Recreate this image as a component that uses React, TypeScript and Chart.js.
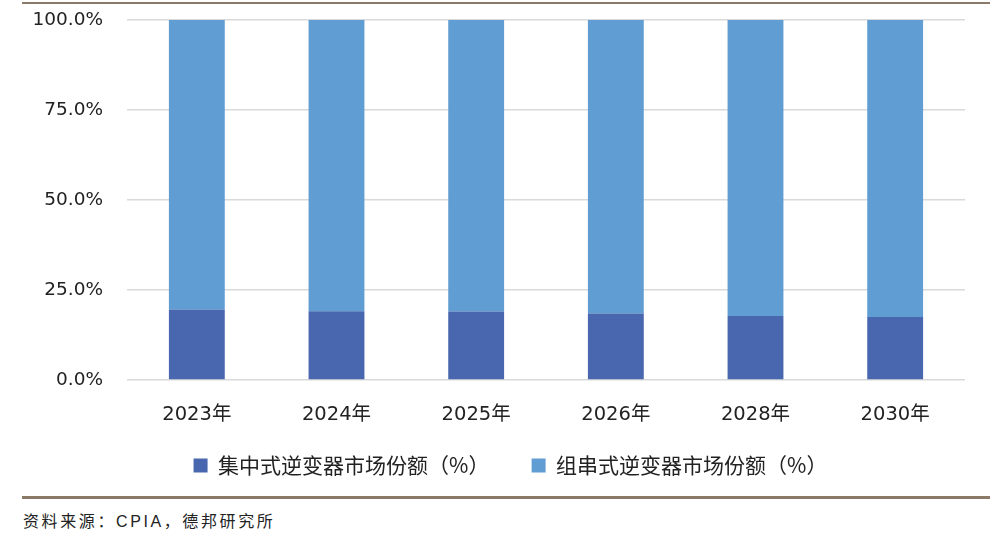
import React, { useEffect, useRef } from "react";
import { Chart, registerables } from "chart.js";

Chart.register(...registerables);

const categories = ["2023年", "2024年", "2025年", "2026年", "2028年", "2030年"];
const centralized = [19.6, 19.1, 19.0, 18.5, 17.8, 17.5];
const string = [80.4, 80.9, 81.0, 81.5, 82.2, 82.5];
const seriesNames = ["集中式逆变器市场份额（%）", "组串式逆变器市场份额（%）"];
const yTicks = [0, 25, 50, 75, 100];
const source = "资料来源：CPIA，德邦研究所";

const FONT = "'DejaVu Sans', 'Noto Sans CJK SC', sans-serif";
const CJK = "'Noto Sans CJK SC', sans-serif";

const legendShift = {
  id: "legendShift",
  afterLayout(chart: any) {
    if (chart.legend) {
      chart.legend.left += 28;
      chart.legend.right += 28;
    }
  },
};

export default function App() {
  const ref = useRef<HTMLCanvasElement | null>(null);
  useEffect(() => {
    if (!ref.current) return;
    const chart = new Chart(ref.current, {
      type: "bar",
      data: {
        labels: categories,
        datasets: [
          { label: seriesNames[0], data: centralized, backgroundColor: "#4867ae", barPercentage: 0.8, categoryPercentage: 0.5 },
          { label: seriesNames[1], data: string, backgroundColor: "#5f9dd3", barPercentage: 0.8, categoryPercentage: 0.5 },
        ],
      },
      plugins: [legendShift],
      options: {
        animation: false,
        responsive: true,
        maintainAspectRatio: false,
        layout: { padding: { top: 20, right: 42, left: 0, bottom: 0 } },
        plugins: {
          tooltip: { enabled: false },
          legend: {
            position: "bottom",
            labels: {
              font: { family: CJK, size: 21 },
              color: "#222",
              boxWidth: 14,
              boxHeight: 14,
              padding: 27,
              generateLabels: (c: any) => {
                const items = Chart.defaults.plugins.legend.labels.generateLabels(c);
                return items.map((it: any, i: number) => (i < items.length - 1 ? { ...it, text: it.text + "\u3000 " } : it));
              },
            },
          },
        },
        scales: {
          x: {
            stacked: true,
            grid: { display: false, drawTicks: false },
            border: { display: false },
            ticks: { font: { family: FONT, size: 19.5 }, color: "#222", padding: 23 },
            afterFit: (s: any) => { s.height = 48; },
          },
          y: {
            stacked: true,
            min: 0,
            max: 100,
            afterBuildTicks: (s: any) => { s.ticks = yTicks.map((v) => ({ value: v })); },
            grid: { color: "#d9d9d9", drawTicks: false, lineWidth: 1.5 },
            border: { display: false },
            ticks: {
              font: { family: FONT, size: 18.5 },
              color: "#222",
              padding: 24,
              callback: (v: any) => Number(v).toFixed(1) + "%",
            },
            afterFit: (s: any) => { s.width = 127; s.paddingTop = 0; s.paddingBottom = 0; },
          },
        },
      },
    });
    return () => chart.destroy();
  }, []);

  return (
    <div style={{ position: "absolute", left: 0, top: 0, width: 1007, height: 540, background: "#fff", fontFamily: FONT }}>
      <div style={{ position: "absolute", left: 22, top: 2, width: 968, height: 2, background: "#8c7a68" }} />
      <div style={{ position: "absolute", left: 0, top: 0, width: 1007, height: 486 }}>
        <canvas ref={ref} />
      </div>
      <div style={{ position: "absolute", left: 22, top: 496, width: 968, height: 3, background: "#8c7a68" }} />
      <div style={{ position: "absolute", left: 23, top: 508, fontSize: 16, letterSpacing: 2.6, color: "#222", whiteSpace: "nowrap", fontFamily: "'Liberation Sans', 'Noto Sans CJK SC', sans-serif" }}>{source}</div>
    </div>
  );
}
